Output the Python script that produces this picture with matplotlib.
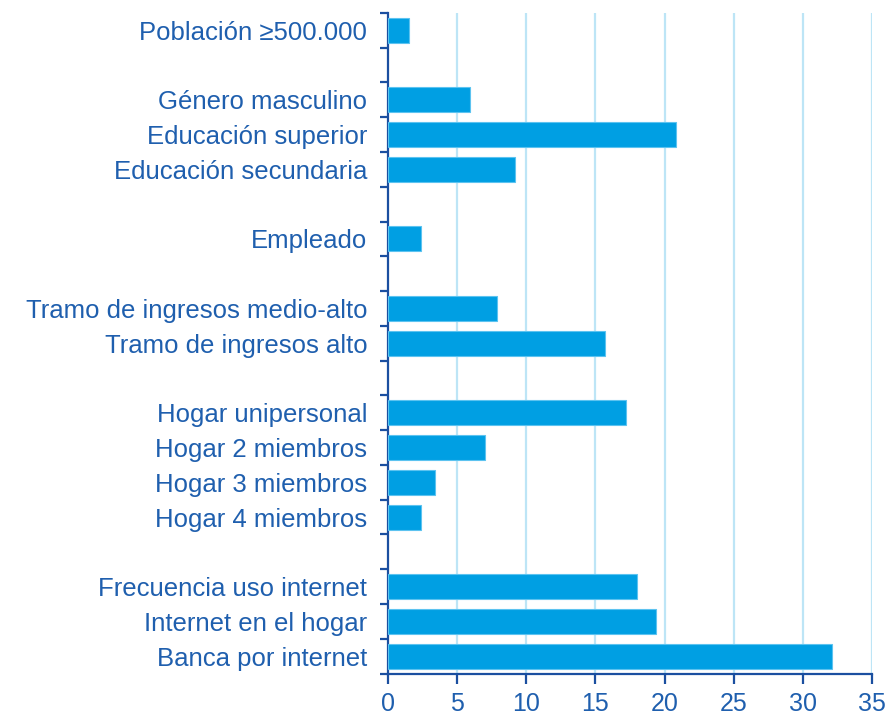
import numpy as np
import matplotlib.pyplot as plt

plt.rcParams['font.family'] = ['Liberation Sans', 'DejaVu Sans']

# categorías de arriba abajo ('' = hueco entre grupos)
labels = ['Población ≥500.000', '',
          'Género masculino', 'Educación superior', 'Educación secundaria', '',
          'Empleado', '',
          'Tramo de ingresos medio-alto', 'Tramo de ingresos alto', '',
          'Hogar unipersonal', 'Hogar 2 miembros', 'Hogar 3 miembros', 'Hogar 4 miembros', '',
          'Frecuencia uso internet', 'Internet en el hogar', 'Banca por internet']
values = [1.5, None,
          5.9, 20.8, 9.2, None,
          2.4, None,
          7.9, 15.7, None,
          17.2, 7.0, 3.4, 2.4, None,
          18.0, 19.4, 32.1]

txt = '#1F5FAE'
axc = '#1B4FA0'
bar_c = '#009FE3'
grid_c = '#BDE5F6'

fig = plt.figure(figsize=(8.87, 7.2), dpi=100)
ax = fig.add_axes([0.4374, 0.0645, 0.5456, 0.9175])

n = len(labels)
pos = np.arange(n)
for p, v in zip(pos, values):
    if v is not None:
        ax.barh(p, v, height=0.72, color=bar_c, edgecolor='#5CC3F0', linewidth=0.8, zorder=3)

ax.set_ylim(n - 0.5, -0.5)
ax.set_xlim(0, 35)
ax.set_xticks(range(0, 36, 5))
ax.set_yticks(pos)
ax.set_yticklabels(labels)
ax.set_yticks(np.arange(-0.5, n, 1), minor=True)

for x in range(5, 36, 5):
    ax.axvline(x, color=grid_c, linewidth=1.6, zorder=1)

for s in ['top', 'right']:
    ax.spines[s].set_visible(False)
for s in ['left', 'bottom']:
    ax.spines[s].set_color(axc)
    ax.spines[s].set_linewidth(1.6)

ax.tick_params(axis='y', which='major', length=0, pad=15, labelsize=18.5, labelcolor=txt)
ax.tick_params(axis='y', which='minor', length=6, width=1.6, color=axc, direction='out')
ax.tick_params(axis='x', which='major', length=7, width=1.6, color=axc, direction='out',
               labelsize=18, labelcolor=txt, pad=6)

fig.savefig('out.png', dpi=100)
